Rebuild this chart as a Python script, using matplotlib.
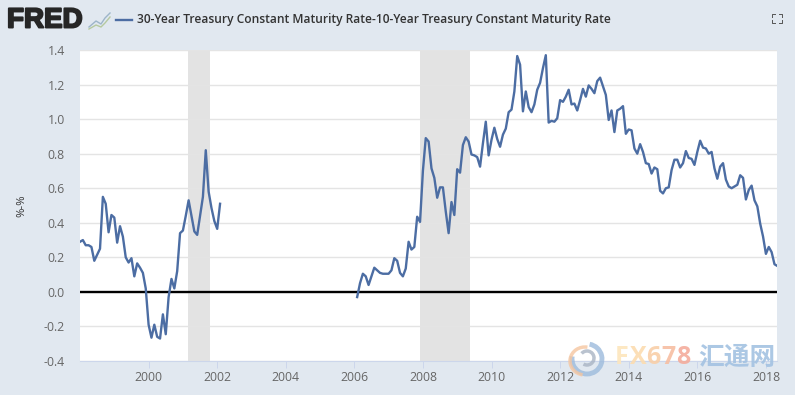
import numpy as np
import matplotlib
matplotlib.use("Agg")
import matplotlib.pyplot as plt
import matplotlib.patheffects as pe
from matplotlib.patches import Arc

title = "30-Year Treasury Constant Maturity Rate-10-Year Treasury Constant Maturity Rate"

# monthly spread, Jan 1998 - Feb 2002
start1 = 1998.0
spread1 = [0.29, 0.30, 0.27, 0.27, 0.26, 0.18, 0.215, 0.25, 0.55, 0.51, 0.345, 0.445,
           0.43, 0.285, 0.38, 0.32, 0.20, 0.17, 0.195, 0.09, 0.165, 0.14, 0.11, 0.02,
           -0.19, -0.265, -0.19, -0.26, -0.27, -0.13, -0.245, -0.03, 0.075, 0.02, 0.12, 0.34,
           0.355, 0.44, 0.53, 0.44, 0.35, 0.33, 0.44, 0.55, 0.82, 0.58, 0.485, 0.41,
           0.365, 0.51]

# monthly spread, Feb 2006 onwards
start2 = 2006.08
spread2 = [-0.03, 0.05, 0.105, 0.09, 0.04, 0.09, 0.14, 0.125, 0.11, 0.105, 0.105,
           0.105, 0.125, 0.195, 0.18, 0.11, 0.09, 0.135, 0.29, 0.245, 0.26, 0.435, 0.405,
           0.70, 0.89, 0.87, 0.715, 0.66, 0.545, 0.605, 0.605, 0.465, 0.34, 0.52, 0.445,
           0.71, 0.69, 0.85, 0.895, 0.87, 0.795, 0.79, 0.78, 0.725, 0.86, 0.985, 0.79,
           0.88, 0.95, 0.885, 0.84, 0.91, 0.945, 1.04, 1.055,
           1.16, 1.365, 1.315, 1.045, 1.16, 1.07, 1.04, 1.085, 1.17, 1.21, 1.295, 1.37,
           0.98, 0.99, 0.985, 1.005, 1.11, 1.10, 1.13, 1.17, 1.085, 1.09, 1.05, 1.11,
           1.175, 1.13, 1.195, 1.175, 1.15, 1.22, 1.24, 1.19, 1.14, 0.995, 1.05, 0.925,
           1.05, 1.06, 1.075, 0.915, 0.94, 0.935, 0.83, 0.80, 0.855,
           0.81, 0.745, 0.74, 0.685, 0.72, 0.71, 0.585, 0.57, 0.60, 0.605, 0.705, 0.765,
           0.765, 0.72, 0.745, 0.815, 0.775, 0.77, 0.735, 0.81, 0.875, 0.835, 0.83, 0.80,
           0.81, 0.715, 0.655, 0.725, 0.745, 0.65, 0.61, 0.60, 0.61, 0.62, 0.675, 0.66,
           0.535, 0.59, 0.615, 0.53, 0.495, 0.395, 0.32, 0.22, 0.26, 0.23, 0.16, 0.15]

recessions = [(2001.15, 2001.8), (2007.9, 2009.38)]
x_ticks = [2000, 2002, 2004, 2006, 2008, 2010, 2012, 2014, 2016, 2018]
y_ticks = [-0.4, -0.2, 0.0, 0.2, 0.4, 0.6, 0.8, 1.0, 1.2, 1.4]

W, H = 795, 395
BG = "#e1e8f0"
BLUE = "#4c6da3"
plt.rcParams['font.family'] = ['Open Sans', 'Noto Sans CJK SC', 'DejaVu Sans']

fig = plt.figure(figsize=(W/100, H/100), dpi=100, facecolor=BG)
ax = fig.add_axes([80/W, 1-361/H, 697/W, 311/H], facecolor="white")

t1 = start1 + np.arange(len(spread1))/12
t2 = start2 + np.arange(len(spread2))/12
for a, b in recessions:
    ax.axvspan(a, b, color="#e3e3e3", lw=0, zorder=1)
ax.set_yticks(y_ticks)
ax.set_yticklabels(["%.1f" % v for v in y_ticks], fontsize=8.8, color="#666666")
ax.grid(axis="y", color="#e4e4e4", lw=1, zorder=0)
ax.axhline(0, color="black", lw=1.7, zorder=3)
ax.plot(t1, spread1, color=BLUE, lw=1.7, zorder=4)
ax.plot(t2, spread2, color=BLUE, lw=1.7, zorder=4)
ax.set_xlim(1998.0, 2018.32)
ax.set_ylim(-0.4, 1.4)
ax.set_xticks(x_ticks)
ax.set_xticklabels([str(v) for v in x_ticks], fontsize=8.8, color="#666666")
ax.tick_params(axis="x", length=5, width=0.7, color="#ccd6eb", pad=2)
ax.tick_params(axis="y", length=0, pad=11)
for s in ["top", "left", "right"]:
    ax.spines[s].set_visible(False)
ax.spines["bottom"].set_color("#ccd6eb")
ax.set_ylabel("%-%", fontsize=8.2, color="#333333", labelpad=12)

# header and watermark, drawn in pixel coordinates over the whole figure
ov = fig.add_axes([0, 0, 1, 1], facecolor="none")
ov.set_xlim(0, W)
ov.set_ylim(H, 0)
ov.axis("off")

ov.text(7, 20.5, "FRED", fontsize=20, fontweight="bold", color="#262626", va="center",
        family="Liberation Sans", path_effects=[pe.withStroke(linewidth=1.4, foreground="#262626")])
ov.plot([89, 96, 101, 105, 110], [27, 21, 24, 18, 13], color="#9db5c9", lw=1)
ov.plot([89, 96, 101, 105, 110], [29, 25, 27, 23, 17], color="#b5c9a0", lw=1)
ov.plot([116, 132], [20, 20], color=BLUE, lw=1.7)
ov.text(137, 20, title, fontsize=8.65, color="#333333", va="center", fontweight="semibold")

# fullscreen icon
for cx, cy, dx, dy in [(772, 14, 1, 1), (782, 14, -1, 1), (772, 23, 1, -1), (782, 23, -1, -1)]:
    ov.plot([cx+3*dx, cx, cx], [cy, cy, cy+3*dy], color="#555555", lw=0.7)

# watermark
ov.add_patch(Arc((587, 359), 30, 30, theta1=-80, theta2=190, color="#9dbbdc", lw=3.5, alpha=0.8, zorder=8))
ov.add_patch(Arc((585, 361), 30, 28, theta1=100, theta2=280, color="#f6c6a0", lw=2.5, alpha=0.8, zorder=8))
ov.add_patch(Arc((587, 358), 14, 14, theta1=-140, theta2=120, color="#a9b4c4", lw=2.5, alpha=0.8, zorder=8))
for ch, xp, col in zip("FX678", [615, 630, 646, 661, 676],
                       ["#fde6bd", "#fcdcb0", "#f9cfa8", "#f7bea2", "#f4ac9c"]):
    ov.text(xp, 358, ch, fontsize=18, fontweight="bold", color=col, va="center", alpha=0.9, zorder=8)
ov.text(698, 357, "汇通网", fontsize=18.5, fontweight="bold", color="#a3c2e2", va="center",
        family=["Noto Sans CJK SC", "DejaVu Sans"], alpha=0.9, zorder=8)

fig.savefig("out.png", dpi=100, facecolor=BG)
